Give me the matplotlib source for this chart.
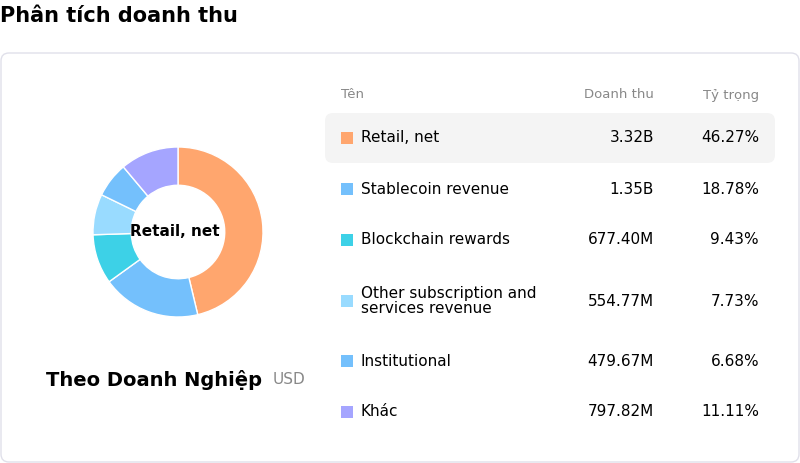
import matplotlib.pyplot as plt
from matplotlib.patches import FancyBboxPatch

names = ["Retail, net", "Stablecoin revenue", "Blockchain rewards",
         "Other subscription and\nservices revenue", "Institutional", "Khác"]
revenue = ["3.32B", "1.35B", "677.40M", "554.77M", "479.67M", "797.82M"]
shares = [46.27, 18.78, 9.43, 7.73, 6.68, 11.11]
colors = ["#FFA66E", "#74C0FC", "#3DD1E7", "#99DBFF", "#74C0FC", "#A5A5FF"]

W, H = 800, 463
fig = plt.figure(figsize=(8, 4.63), dpi=100)
bg = fig.add_axes([0, 0, 1, 1])
bg.set_xlim(0, W)
bg.set_ylim(H, 0)
bg.axis("off")

bg.text(0, 16, "Phân tích doanh thu", fontsize=15, fontweight="bold", va="center")
bg.add_patch(FancyBboxPatch((1, 53), 798, 409, boxstyle="round,pad=0,rounding_size=8",
                            fc="white", ec="#E0E0EA", lw=1))

# table
bg.text(341, 95, "Tên", fontsize=9.5, color="#888888", va="center")
bg.text(654, 95, "Doanh thu", fontsize=9.5, color="#888888", va="center", ha="right")
bg.text(759, 95, "Tỷ trọng", fontsize=9.5, color="#888888", va="center", ha="right")
bg.add_patch(FancyBboxPatch((325, 113), 450, 50, boxstyle="round,pad=0,rounding_size=8",
                            fc="#F4F4F4", ec="none"))
rows_y = [138, 189, 240, 301, 361, 412]
for y, n, r, s, c in zip(rows_y, names, revenue, shares, colors):
    bg.add_patch(plt.Rectangle((341, y - 6), 12, 12, fc=c, ec="none"))
    bg.text(361, y, n, fontsize=11, va="center", linespacing=1.0)
    bg.text(654, y, r, fontsize=11, va="center", ha="right")
    bg.text(759, y, f"{s:.2f}%", fontsize=11, va="center", ha="right")

bg.text(154, 380, "Theo Doanh Nghiệp", fontsize=14, fontweight="bold", va="center", ha="center")
bg.text(273, 380, "USD", fontsize=11, color="#888888", va="center")

# donut
cx, cy, r = 178, 232, 85
pax = fig.add_axes([(cx - r) / W, (H - cy - r) / H, 2 * r / W, 2 * r / H])
pax.pie(shares, colors=colors, startangle=90, counterclock=False, radius=1,
        wedgeprops=dict(width=0.45, edgecolor="white", linewidth=1))
pax.set_xlim(-1, 1)
pax.set_ylim(-1, 1)
pax.set_aspect("equal")
pax.text(-0.04, 0, "Retail, net", ha="center", va="center", fontsize=11, fontweight="bold")

fig.savefig("out.png", dpi=100)
